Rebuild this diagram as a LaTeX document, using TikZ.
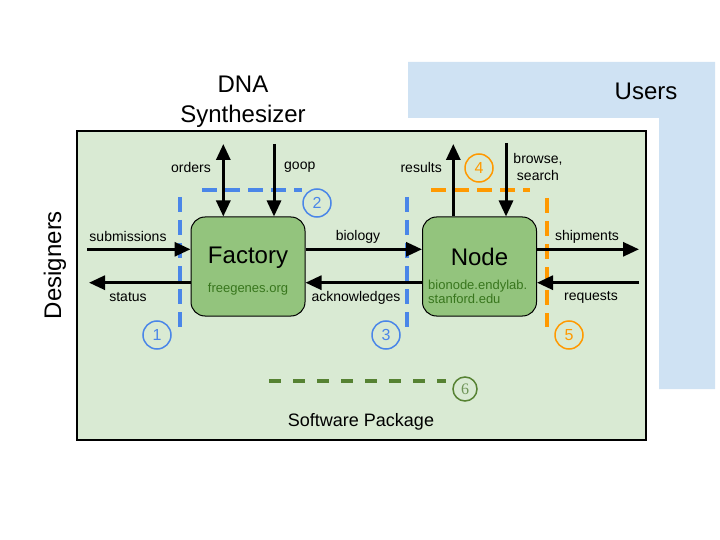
\documentclass[tikz,border=0pt]{standalone}
\usepackage{fontspec}
\setmainfont{Liberation Sans}
\newfontfamily\sixfont{Liberation Serif}
\usetikzlibrary{arrows.meta,calc}
\tikzset {>={Triangle[length=16pt,width=14pt]}}
\definecolor{panelgreen}{HTML}{D9EAD3}
\definecolor{usersblue}{HTML}{CFE2F3}
\definecolor{boxgreen}{HTML}{93C47D}
\definecolor{urlgreen}{HTML}{38761D}
\definecolor{dashblue}{HTML}{4A86E8}
\definecolor{dashorange}{HTML}{FF9900}
\definecolor{dasholive}{HTML}{568232}
\definecolor{sixgreen}{HTML}{6E9457}

\begin{document}
\begin{tikzpicture}[x=1pt,y=-1pt,
  big/.style={font=\fontsize{24}{30}\selectfont},
  lbl/.style={font=\fontsize{14}{17.5}\selectfont,inner sep=1pt},
  url/.style={font=\fontsize{13}{14.5}\selectfont,text=urlgreen,inner sep=0pt},
  server/.style={draw,fill=boxgreen,rounded corners=14pt,line width=1pt,minimum width=114pt,minimum height=99pt},
  flow/.style={->,line width=3pt},
  zone/.style={line width=4pt,dash pattern=on 15pt off 8pt},
  num/.style={circle,draw,line width=1.5pt,minimum size=28pt,inner sep=0pt,font=\fontsize{16}{16}\selectfont}]
\useasboundingbox (0,0) rectangle (720,540);
\fill[usersblue] (408,62) -- (715,62) -- (715,389) -- (659,389) -- (659,118) -- (408,118) -- cycle;
\draw[fill=panelgreen,line width=1.3pt] (77,131) rectangle (646,440);
\node[big] (users) at (646,91) {Users};
\node[big,align=center] (synth) at (243,102) {DNA\\Synthesizer};
\node[big,rotate=90] (designers) at (55,265) {Designers};
\node[font=\fontsize{18}{18}\selectfont] (software) at (361,422) {Software Package};

\draw[zone,dashblue] (180,197) -- (180,327);
\draw[zone,dashblue] (202,190) -- (302,190);
\draw[zone,dashblue] (407,197) -- (407,327);
\draw[zone,dashorange] (431,190) -- (530,190);
\draw[zone,dashorange] (547,198) -- (547,327);
\draw[zone,dasholive,dash pattern=on 12pt off 12pt] (269,381) -- (446,381);

\node[server] (fac) at (248,266.5) {};
\node[big] (factxt) at (248,258) {Factory};
\node[url] (facurl) at (248,289) {freegenes.org};
\node[server] (nd) at (479.5,266.5) {};
\node[big] (ndtxt) at (479.5,257) {Node};
\node[url,align=left,anchor=west] (ndurl) at (428,292) {bionode.endylab.\\stanford.edu};

\coordinate (subin) at (87,249.3);
\coordinate (statout) at (89,282.7);
\coordinate (shipout) at (639,249.3);
\coordinate (reqin) at (639,282.7);
\coordinate (ordtop) at (223.3,144);
\coordinate (gooptop) at (274,144);
\coordinate (restop) at (453.3,144);
\coordinate (brotop) at (506,143);

\draw[flow] (subin) -- (subin -| fac.west);
\draw[flow] (fac.west |- statout) -- (statout);
\draw[flow] (fac.east |- subin) -- (nd.west |- subin);
\draw[flow] (nd.west |- statout) -- (fac.east |- statout);
\draw[flow] (nd.east |- subin) -- (shipout);
\draw[flow] (reqin) -- (nd.east |- reqin);
\draw[flow,<->] (fac.north -| ordtop) -- (ordtop);
\draw[flow] (gooptop) -- (fac.north -| gooptop);
\draw[flow] (nd.north -| restop) -- (restop);
\draw[flow] (brotop) -- (nd.north -| brotop);

\node[lbl] (sublbl) at (128,236) {submissions};
\node[lbl] (statlbl) at (128,297) {status};
\node[lbl] (biolbl) at (358,237) {biology};
\node[lbl] (acklbl) at (356,298) {acknowledges};
\node[lbl] (shiplbl) at (587,237) {shipments};
\node[lbl] (reqlbl) at (591,297) {requests};
\node[lbl,anchor=east] (ordlbl) at (212,167) {orders};
\node[lbl,anchor=west] (gooplbl) at (283,167) {goop};
\node[lbl,anchor=east] (reslbl) at (443,167) {results};
\node[lbl,align=center] (brolbl) at (538,167) {browse,\\search};

\node[num,draw=dashblue,text=dashblue] (c1) at (157,335) {1};
\node[num,draw=dashblue,text=dashblue] (c2) at (317,203) {2};
\node[num,draw=dashblue,text=dashblue] (c3) at (386,335) {3};
\node[num,draw=dashorange,text=dashorange] (c4) at (479,168) {4};
\node[num,draw=dashorange,text=dashorange] (c5) at (569,335) {5};
\node[num,draw=dasholive,text=sixgreen,minimum size=24pt,font=\sixfont\fontsize{16}{16}\selectfont] (c6) at (465,389) {6};
\end{tikzpicture}
\end{document}
